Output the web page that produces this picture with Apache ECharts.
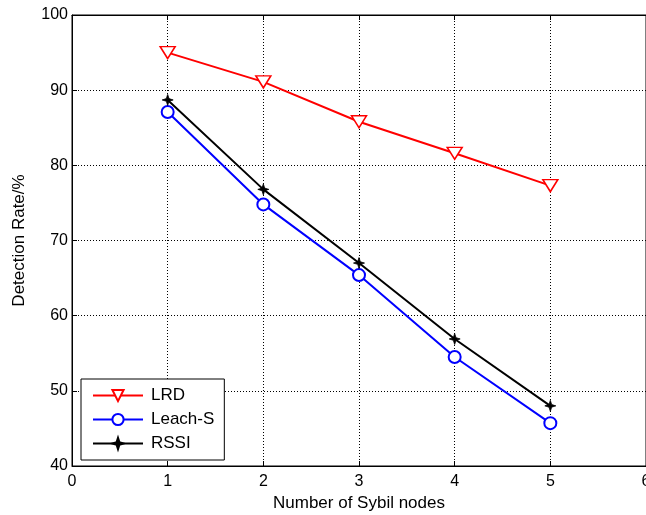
<!DOCTYPE html>
<html>
<head>
<meta charset="utf-8">
<script src="https://cdn.jsdelivr.net/npm/echarts@6/dist/echarts.min.js"></script>
<style>html,body{margin:0;padding:0;background:#fff}#c{width:646px;height:515px}</style>
</head>
<body>
<div id="c"></div>
<script>
const xValues = [1, 2, 3, 4, 5];
const lrd = [95.0, 91.1, 85.8, 81.6, 77.3];
const leachS = [87.1, 74.8, 65.4, 54.5, 45.7];
const rssi = [88.7, 76.8, 67.0, 56.9, 48.0];
const seriesNames = ['LRD', 'Leach-S', 'RSSI'];

const FONT = 'Liberation Sans, Arial, sans-serif';
const star = 'path://M0,-10 L2.4,-2.4 L10,0 L2.4,2.4 L0,10 L-2.4,2.4 L-10,0 L-2.4,-2.4 Z';
const pair = (ys) => xValues.map((x, i) => [x, ys[i]]);

const chart = echarts.init(document.getElementById('c'), null, {renderer: 'canvas'});
chart.setOption({
  animation: false,
  backgroundColor: '#fff',
  grid: {left: 72, top: 15, right: 0, bottom: 49, outerBoundsMode: 'none', containLabel: false,
         show: true, borderColor: '#000', borderWidth: 1, backgroundColor: 'transparent'},
  xAxis: [{
    type: 'value', min: 0, max: 6, interval: 1, position: 'bottom',
    name: 'Number of Sybil nodes', nameLocation: 'middle', nameGap: 29,
    nameTextStyle: {fontFamily: FONT, fontSize: 17, color: '#000'},
    axisLine: {show: true, onZero: false, lineStyle: {color: '#000', width: 1}},
    axisTick: {show: true, inside: true, length: 5, lineStyle: {color: '#000'}},
    axisLabel: {fontFamily: FONT, fontSize: 16, color: '#000', margin: 8},
    splitLine: {show: true, lineStyle: {color: '#000', type: [1, 2], width: 1}}
  }, {
    type: 'value', min: 0, max: 6, interval: 1, position: 'top',
    axisLine: {show: true, lineStyle: {color: '#000'}},
    axisTick: {show: true, inside: true, length: 5, lineStyle: {color: '#000'}},
    axisLabel: {show: false}, splitLine: {show: false}
  }],
  yAxis: [{
    type: 'value', min: 40, max: 100, interval: 10,
    name: 'Detection Rate/%', nameLocation: 'middle', nameGap: 44,
    nameTextStyle: {fontFamily: FONT, fontSize: 17, color: '#000'},
    axisLine: {show: true, onZero: false, lineStyle: {color: '#000', width: 1}},
    axisTick: {show: true, inside: true, length: 5, lineStyle: {color: '#000'}},
    axisLabel: {fontFamily: FONT, fontSize: 16, color: '#000', margin: 4},
    splitLine: {show: true, lineStyle: {color: '#000', type: [1, 2], width: 1}}
  }],
  legend: {
    orient: 'vertical', left: 81, top: 379,
    padding: [8, 10, 8, 11],
    backgroundColor: '#fff', borderColor: '#000', borderWidth: 1, borderRadius: 0,
    itemWidth: 50, itemHeight: 14, itemGap: 7,
    textStyle: {fontFamily: FONT, fontSize: 17, color: '#000', padding: [0, 0, 0, 3]},
    data: seriesNames
  },
  series: [{
    name: seriesNames[0], type: 'line', data: pair(lrd),
    symbol: 'triangle', symbolRotate: 180, symbolSize: [15, 12],
    itemStyle: {color: '#fff', borderColor: '#ff0000', borderWidth: 1.5},
    lineStyle: {color: '#ff0000', width: 2}, z: 3
  }, {
    name: seriesNames[1], type: 'line', data: pair(leachS),
    symbol: 'circle', symbolSize: 12,
    itemStyle: {color: '#fff', borderColor: '#0000ff', borderWidth: 2},
    lineStyle: {color: '#0000ff', width: 2}, z: 4
  }, {
    name: seriesNames[2], type: 'line', data: pair(rssi),
    symbol: star, symbolSize: 11,
    itemStyle: {color: '#000', borderColor: '#000', borderWidth: 0.8},
    lineStyle: {color: '#000', width: 2}, z: 5
  }]
});
</script>
</body>
</html>
